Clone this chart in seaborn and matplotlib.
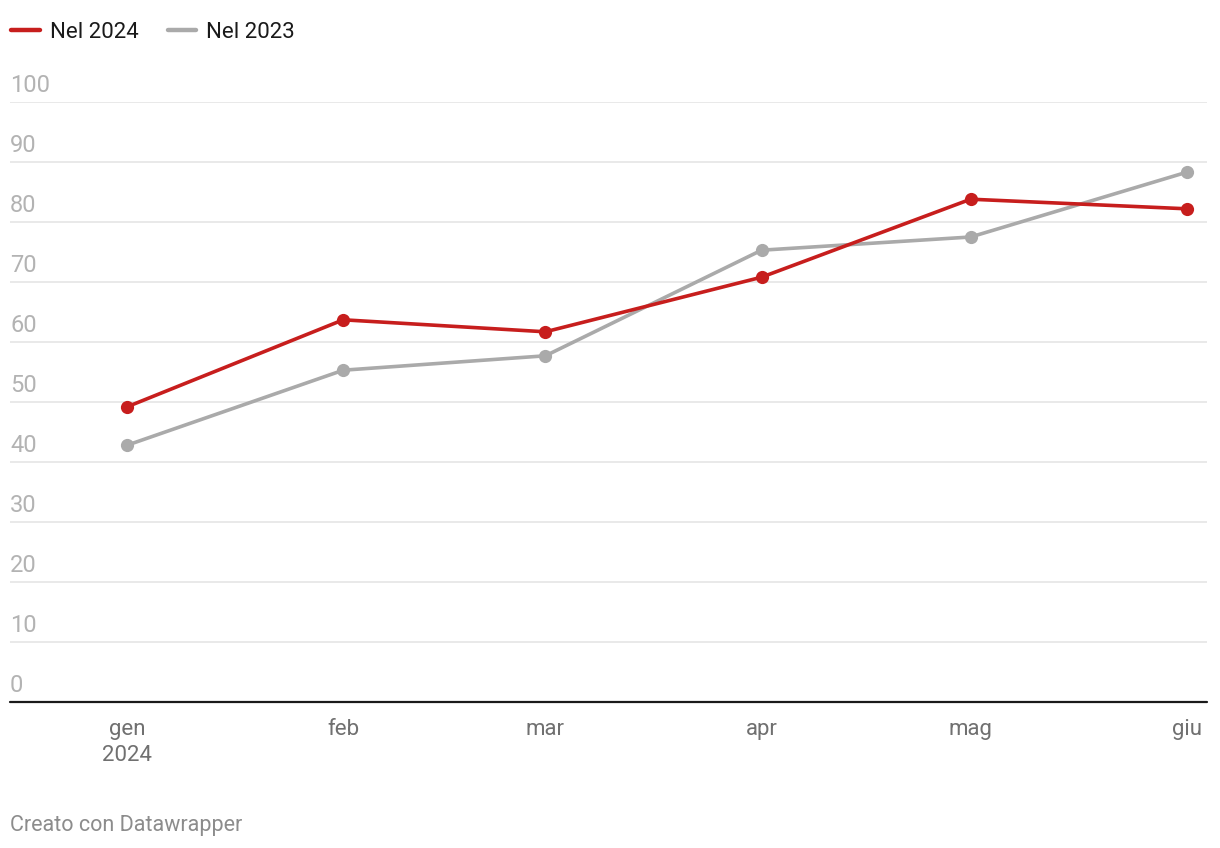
"""
Nel 2024 vs Nel 2023 - monthly line chart (Datawrapper style)
"""
import pandas as pd
import matplotlib
matplotlib.use('Agg')
import matplotlib.pyplot as plt
import matplotlib.transforms as mtransforms
import seaborn as sns

# Data
months = ['2024-01-01', '2024-02-01', '2024-03-01', '2024-04-01', '2024-05-01', '2024-06-01']
month_labels = ['gen\n2024', 'feb', 'mar', 'apr', 'mag', 'giu']
values_2024 = [49.2, 63.7, 61.7, 70.8, 83.8, 82.2]
values_2023 = [42.8, 55.3, 57.7, 75.3, 77.5, 88.3]
series_names = ['Nel 2024', 'Nel 2023']
y_ticks = [0, 10, 20, 30, 40, 50, 60, 70, 80, 90, 100]

RED = '#c71e1d'
GRAY = '#aaaaaa'

dates = pd.to_datetime(months)
df = pd.concat([
    pd.DataFrame({'date': dates, 'value': values_2024, 'serie': series_names[0]}),
    pd.DataFrame({'date': dates, 'value': values_2023, 'serie': series_names[1]}),
])

sns.set_style('white')
plt.rcParams['font.family'] = ['Roboto', 'DejaVu Sans']

fig = plt.figure(figsize=(12.2, 8.48), dpi=100)
ax = fig.add_axes([10 / 1220, 146 / 848, 1197 / 1220, 600 / 848])

palette = {series_names[0]: RED, series_names[1]: GRAY}
# draw gray first so red sits on top
sns.lineplot(data=df, x='date', y='value', hue='serie', hue_order=series_names[::-1],
             palette=palette, linewidth=2.6, marker='o', markersize=9.5,
             markeredgewidth=0, legend=False, ax=ax, zorder=3)

ax.set_ylim(0, 100)
ax.set_xlim(dates[0] - pd.Timedelta(days=16.8), dates[-1] + pd.Timedelta(days=2.9))

# gridlines and baseline
for t in y_ticks:
    if t == 0:
        ax.axhline(t, color='#1a1a1a', linewidth=1.6, zorder=4, clip_on=False)
    else:
        ax.axhline(t, color='#e3e3e3', linewidth=1.1, zorder=1)

# y labels sit above their gridlines, left-aligned
trans = mtransforms.blended_transform_factory(ax.transAxes, ax.transData)
for t in y_ticks:
    ax.text(0, t + 0.75, str(t), transform=trans, ha='left', va='bottom',
            fontsize=17, color='#b3b3b3')

ax.set_yticks([])
ax.set_xticks(dates)
ax.set_xticklabels(month_labels, fontsize=16, color='#707070', linespacing=1.35)
ax.tick_params(axis='x', length=0, pad=12)
ax.set_xlabel('')
ax.set_ylabel('')
for s in ax.spines.values():
    s.set_visible(False)

# legend
handles = [plt.Line2D([], [], color=RED, linewidth=3.2),
           plt.Line2D([], [], color=GRAY, linewidth=3.2)]
fig.legend(handles, series_names, loc='upper left', bbox_to_anchor=(10 / 1220, 1 - 21 / 848),
           ncol=2, frameon=False, fontsize=16, handlelength=1.3, handletextpad=0.45,
           columnspacing=1.3, borderaxespad=0, borderpad=0.05, labelcolor='#1a1a1a')

fig.text(10 / 1220, 1 - 825 / 848, 'Creato con Datawrapper', ha='left', va='center',
         fontsize=15.5, color='#8c8c8c')

fig.savefig('out.png', dpi=100)
